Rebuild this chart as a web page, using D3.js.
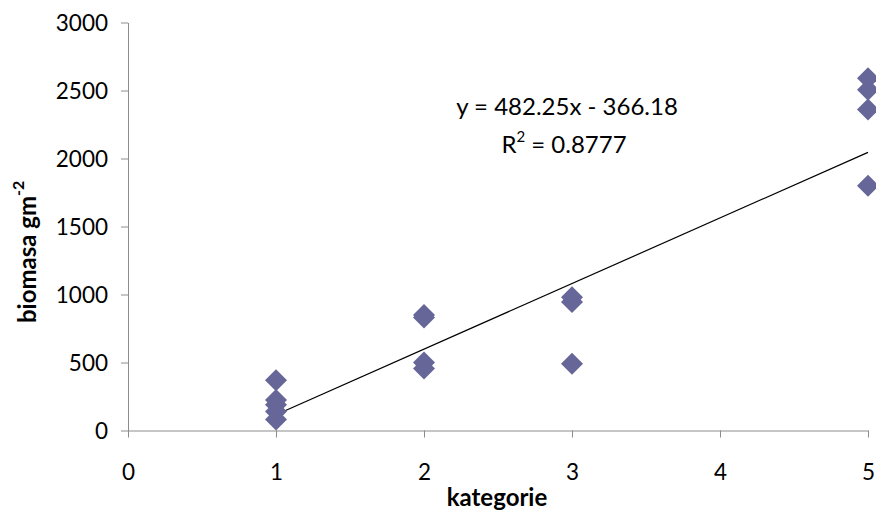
<!DOCTYPE html>
<html>
<head>
<meta charset="utf-8">
<script src="https://cdn.jsdelivr.net/npm/d3@7"></script>
<style>
  body { margin: 0; background: #fff; }
  text { font-family: Lato, "Open Sans", sans-serif; fill: #000; }
</style>
</head>
<body>
<div id="chart"></div>
<script>
// data
var kategorie = [1, 1, 1, 1, 1, 2, 2, 2, 2, 3, 3, 3, 5, 5, 5, 5];
var biomasa   = [370, 225, 190, 140, 80, 850, 830, 500, 455, 980, 945, 490, 2590, 2505, 2360, 1800];
var xTicks = [0, 1, 2, 3, 4, 5];
var yTicks = [0, 500, 1000, 1500, 2000, 2500, 3000];
var slope = 482.25, intercept = -366.18;   // trendline from the label
var trendX = [1, 5];

var width = 876, height = 510;
var margin = {top: 22.5, right: 8, bottom: 79.5, left: 128};

var svg = d3.select("#chart").append("svg")
    .attr("width", width)
    .attr("height", height);

var x = d3.scaleLinear().domain([0, 5]).range([margin.left, width - margin.right]);
var y = d3.scaleLinear().domain([0, 3000]).range([height - margin.bottom, margin.top]);

// axes
var xAxis = svg.append("g")
    .attr("transform", "translate(0," + y(0) + ")")
    .call(d3.axisBottom(x).tickValues(xTicks).tickFormat(d3.format("d"))
      .tickSize(7).tickSizeOuter(0).tickPadding(23));

var yAxis = svg.append("g")
    .attr("transform", "translate(" + x(0) + ",0)")
    .call(d3.axisLeft(y).tickValues(yTicks).tickFormat(d3.format("d"))
      .tickSize(7).tickSizeOuter(0).tickPadding(13));

[xAxis, yAxis].forEach(function(a) {
  a.select(".domain").attr("stroke", "#8c8c8c");
  a.selectAll(".tick line").attr("stroke", "#8c8c8c");
  a.selectAll(".tick text")
      .style("font-family", "Lato, 'Open Sans', sans-serif")
      .style("font-size", "22.5px")
      .attr("fill", "#000");
});
yAxis.selectAll(".tick text").attr("dy", "0.36em");
xAxis.selectAll(".tick text").attr("dy", "0.85em");

// trendline
var line = d3.line()
    .x(function(d) { return x(d); })
    .y(function(d) { return y(slope * d + intercept); });

svg.append("path")
    .datum(trendX)
    .attr("d", line)
    .attr("fill", "none")
    .attr("stroke", "#000")
    .attr("stroke-width", 1.2);

// diamond markers
var diamond = {
  draw: function(ctx, size) {
    var r = Math.sqrt(size) / 2;
    ctx.moveTo(0, -r);
    ctx.lineTo(r, 0);
    ctx.lineTo(0, r);
    ctx.lineTo(-r, 0);
    ctx.closePath();
  }
};

svg.selectAll("path.pt")
    .data(kategorie)
    .enter().append("path")
    .attr("class", "pt")
    .attr("d", d3.symbol().type(diamond).size(22 * 22))
    .attr("transform", function(d, i) { return "translate(" + x(d) + "," + y(biomasa[i]) + ")"; })
    .attr("fill", "#666699");

// equation label
svg.append("text")
    .attr("x", 567)
    .attr("y", 115)
    .attr("text-anchor", "middle")
    .style("font-size", "24px")
    .text("y = 482.25x - 366.18");

var r2 = svg.append("text")
    .attr("x", 564)
    .attr("y", 153)
    .attr("text-anchor", "middle")
    .style("font-size", "24px");
r2.append("tspan").text("R");
r2.append("tspan").attr("dy", -11).style("font-size", "15px").text("2");
r2.append("tspan").attr("dy", 11).text(" = 0.8777");

// axis titles
svg.append("text")
    .attr("x", 497)
    .attr("y", 506)
    .attr("text-anchor", "middle")
    .style("font-size", "24px")
    .style("font-weight", "bold")
    .text("kategorie");

var yt = svg.append("text")
    .attr("transform", "translate(36,323) rotate(-90)")
    .attr("text-anchor", "start")
    .style("font-size", "24px")
    .style("font-weight", "bold");
yt.append("tspan").text("biomasa gm");
yt.append("tspan").attr("dy", -12).style("font-size", "16px").text("-2");
</script>
</body>
</html>
